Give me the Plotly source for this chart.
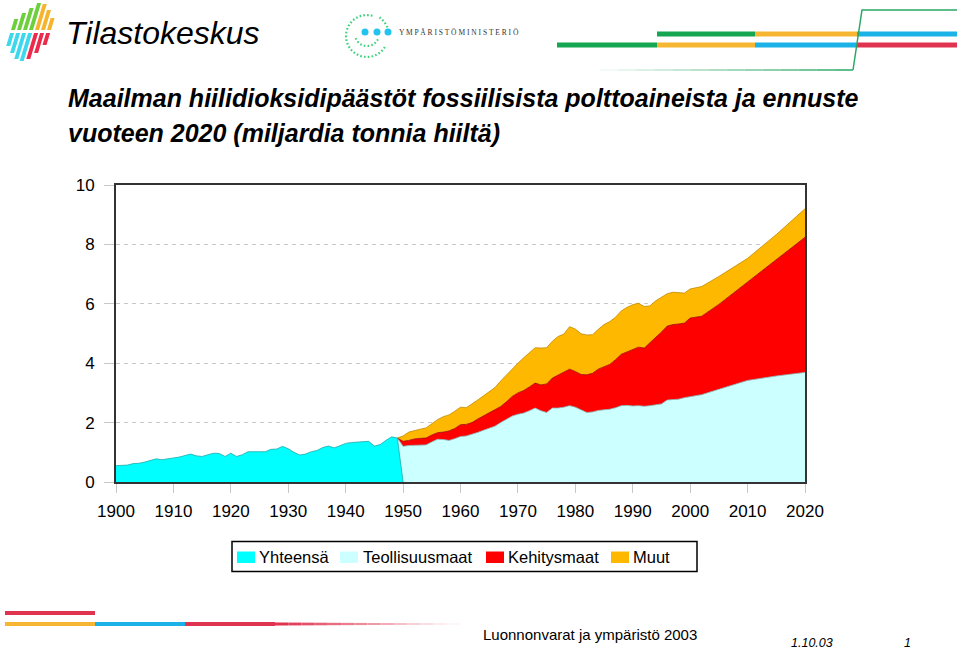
import math
import plotly.graph_objects as go

# ---------------- data ----------------
years_hist = list(range(1900, 1951))
yhteensa = [0.55, 0.56, 0.57, 0.62, 0.63, 0.67, 0.72, 0.78, 0.75, 0.77,
            0.81, 0.84, 0.88, 0.94, 0.88, 0.86, 0.92, 0.97, 0.96, 0.86,
            0.97, 0.86, 0.92, 1.02, 1.02, 1.02, 1.02, 1.10, 1.11, 1.20,
            1.12, 1.00, 0.91, 0.94, 1.02, 1.06, 1.16, 1.21, 1.15, 1.22,
            1.30, 1.33, 1.34, 1.36, 1.37, 1.21, 1.26, 1.40, 1.52, 1.48,
            0.0]

years_stack = list(range(1949, 2003)) + [2005, 2010, 2015, 2020]
teollisuusmaat = [1.48, 1.20, 1.23, 1.23, 1.24, 1.25, 1.35, 1.44, 1.43, 1.40,
                  1.46, 1.53, 1.55, 1.60, 1.67, 1.74, 1.80, 1.88, 2.00, 2.10,
                  2.22, 2.28, 2.32, 2.40, 2.49, 2.40, 2.34, 2.49, 2.49, 2.52,
                  2.57, 2.52, 2.43, 2.34, 2.36, 2.41, 2.43, 2.45, 2.50, 2.57,
                  2.58, 2.56, 2.57, 2.55, 2.57, 2.60, 2.63, 2.76, 2.78, 2.79,
                  2.84, 2.88, 2.91, 2.94, 3.12, 3.42, 3.57, 3.69]
kehitysmaat = [0.00, 0.17, 0.17, 0.22, 0.23, 0.23, 0.23, 0.22, 0.25, 0.32,
               0.34, 0.40, 0.39, 0.40, 0.45, 0.48, 0.52, 0.54, 0.54, 0.60,
               0.66, 0.72, 0.76, 0.80, 0.84, 0.87, 0.96, 1.01, 1.11, 1.16,
               1.23, 1.20, 1.19, 1.27, 1.30, 1.39, 1.46, 1.51, 1.62, 1.73,
               1.80, 1.89, 1.97, 1.96, 2.11, 2.25, 2.42, 2.49, 2.52, 2.53,
               2.51, 2.64, 2.65, 2.64, 2.86, 3.32, 3.92, 4.55]
muut = [0.00, 0.18, 0.28, 0.29, 0.31, 0.34, 0.38, 0.44, 0.52, 0.54,
        0.58, 0.59, 0.56, 0.62, 0.64, 0.68, 0.72, 0.76, 0.86, 0.90,
        0.94, 1.00, 1.10, 1.16, 1.19, 1.24, 1.22, 1.24, 1.30, 1.30,
        1.43, 1.43, 1.37, 1.34, 1.30, 1.34, 1.41, 1.44, 1.43, 1.46,
        1.50, 1.52, 1.48, 1.40, 1.25, 1.25, 1.17, 1.09, 1.09, 1.05,
        1.01, 0.98, 0.98, 1.00, 0.94, 0.79, 0.84, 0.96]

x_ticks = [1900, 1910, 1920, 1930, 1940, 1950, 1960, 1970, 1980, 1990, 2000, 2010, 2020]
y_ticks = [0, 2, 4, 6, 8, 10]

series_names = ["Yhteensä", "Teollisuusmaat", "Kehitysmaat", "Muut"]
series_colors = ["#00FFFF", "#CCFFFF", "#FF0000", "#FFB800"]
series_lines = ["#22AAAA", "#88BBBB", "#A00000", "#C08A00"]

title_1 = "Maailman hiilidioksidipäästöt fossiilisista polttoaineista ja ennuste"
title_2 = "vuoteen 2020 (miljardia tonnia hiiltä)"

FONT = "Liberation Sans, Arial, sans-serif"

# ---------------- layout geometry (pixels) ----------------
W, H = 960, 649
L, R, T, B = 116, 805, 185, 482


def px(x):
    return (x - L) / (R - L)


def py(y):
    return (B - y) / (B - T)


def path(pts, close=True):
    s = "M " + " L ".join(f"{px(x):.5f},{py(y):.5f}" for x, y in pts)
    return s + (" Z" if close else "")


fig = go.Figure()

# stacked series from 1949 on
for name, vals, fc, lc in zip(series_names[1:], [teollisuusmaat, kehitysmaat, muut],
                              series_colors[1:], series_lines[1:]):
    fig.add_trace(go.Scatter(x=years_stack, y=vals, name=name, stackgroup="one",
                             mode="lines", line=dict(color=lc, width=0.8),
                             fillcolor=fc, showlegend=False, hoverinfo="x+y+name"))

# total until 1950
fig.add_trace(go.Scatter(x=years_hist, y=yhteensa, name=series_names[0], mode="lines",
                         fill="tozeroy", fillcolor=series_colors[0],
                         line=dict(color=series_lines[0], width=0.8), showlegend=False))

shapes = []
annotations = []

# ---------- custom legend ----------
shapes.append(dict(type="rect", xref="paper", yref="paper", x0=px(232), x1=px(697),
                   y0=py(541.5), y1=py(571.5), line=dict(color="black", width=1.5)))
leg_sw = [237, 340, 486, 611]
leg_tx = [257, 360.5, 505.5, 630.5]
for sx, tx, name, c in zip(leg_sw, leg_tx, series_names, series_colors):
    shapes.append(dict(type="rect", xref="paper", yref="paper", x0=px(sx), x1=px(sx + 18),
                       y0=py(563), y1=py(551.5), fillcolor=c, line=dict(width=0)))
    annotations.append(dict(x=px(tx), y=py(557), xref="paper", yref="paper", text=name,
                            showarrow=False, xanchor="left", yanchor="middle",
                            font=dict(family=FONT, size=16.5, color="black")))

# ---------- titles ----------
for txt, yy in [(title_1, 98), (title_2, 133)]:
    annotations.append(dict(x=px(66), y=py(yy), xref="paper", yref="paper",
                            text=f"<b><i>{txt}</i></b>", showarrow=False,
                            xanchor="left", yanchor="middle",
                            font=dict(family=FONT, size=25, color="black")))

# ---------- Tilastokeskus logo ----------
cols_x = [11, 17, 23, 29, 35, 41, 47]
tops = [19, 13, 8, 3, 4, 10, 18]
bottoms = [46, 53, 59, 61, 59, 53, 45]
s = 0.3
w = 4
for i, (xb, t, b) in enumerate(zip(cols_x, tops, bottoms)):
    cu = "#6CCF3C" if i < 4 else "#F6B42C"
    cl = "#3ED8EE" if i < 4 else "#EC2A4C"
    up = [(xb, 30), (xb + w, 30), (xb + w + s * (30 - t), t), (xb + s * (30 - t), t)]
    lo = [(xb - s * 3, 33), (xb + w - s * 3, 33), (xb + w - s * (b - 30), b), (xb - s * (b - 30), b)]
    shapes.append(dict(type="path", xref="paper", yref="paper", path=path(up),
                       fillcolor=cu, line=dict(width=0)))
    shapes.append(dict(type="path", xref="paper", yref="paper", path=path(lo),
                       fillcolor=cl, line=dict(width=0)))
annotations.append(dict(x=px(64), y=py(33), xref="paper", yref="paper", text="<i>Tilastokeskus</i>",
                        showarrow=False, xanchor="left", yanchor="middle",
                        font=dict(family=FONT, size=32, color="black")))

# ---------- Ympäristöministeriö logo ----------
def arc(cx, cy, r, a0, a1, n=40):
    return [(cx + r * math.cos(math.radians(a0 + (a1 - a0) * k / n)),
             cy - r * math.sin(math.radians(a0 + (a1 - a0) * k / n))) for k in range(n + 1)]


green_dot = "#3DD27A"
for (cx, cy, r, a0, a1) in [(367, 36, 21, 75, 330), (367, 34, 12, 200, 335), (366, 36, 23, 22, 58)]:
    shapes.append(dict(type="path", xref="paper", yref="paper", path=path(arc(cx, cy, r, a0, a1), close=False),
                       line=dict(color=green_dot, width=2.2, dash="1.6px,2.2px")))
for cx in [365, 377, 388]:
    shapes.append(dict(type="circle", xref="paper", yref="paper", x0=px(cx - 3.5), x1=px(cx + 3.5),
                       y0=py(32 - 3.5), y1=py(32 + 3.5), fillcolor="#22C3EC", line=dict(width=0)))
annotations.append(dict(x=px(397), y=py(32), xref="paper", yref="paper",
                        text="Y M P Ä R I S T Ö M I N I S T E R I Ö", showarrow=False,
                        xanchor="left", yanchor="middle",
                        font=dict(family="Liberation Serif, serif", size=7.5, color="#333333")))

# ---------- top-right bands ----------
G, O, C, Rd = "#14A650", "#F6B631", "#1BB2E8", "#E0334F"
for (x0, x1, yy, c) in [(657, 755, 34, G), (755, 857, 34, O), (857, 957, 34, C),
                        (557, 657, 45, G), (657, 755, 45, O), (755, 857, 45, C), (857, 957, 45, Rd)]:
    shapes.append(dict(type="line", xref="paper", yref="paper", x0=px(x0), x1=px(x1),
                       y0=py(yy), y1=py(yy), line=dict(color=c, width=5)))
shapes.append(dict(type="path", xref="paper", yref="paper",
                   path=path([(853, 70), (862, 10), (957, 10)], close=False),
                   line=dict(color="#2BA866", width=1.5)))
nseg = 14
for k in range(nseg):
    x0 = 600 + (853 - 600) * k / nseg
    x1 = 600 + (853 - 600) * (k + 1) / nseg
    f = (k + 1) / nseg
    col = f"rgb({int(255 - (255 - 43) * f)},{int(255 - (255 - 168) * f)},{int(255 - (255 - 102) * f)})"
    shapes.append(dict(type="line", xref="paper", yref="paper", x0=px(x0), x1=px(x1),
                       y0=py(70), y1=py(70), line=dict(color=col, width=1.5)))

# ---------- footer ----------
for (x0, x1, yy, c) in [(5, 95, 613, Rd), (5, 95, 624, O), (95, 185, 624, C), (185, 275, 624, Rd)]:
    shapes.append(dict(type="line", xref="paper", yref="paper", x0=px(x0), x1=px(x1),
                       y0=py(yy), y1=py(yy), line=dict(color=c, width=4)))
for k in range(nseg):
    x0 = 275 + (460 - 275) * k / nseg
    x1 = 275 + (460 - 275) * (k + 1) / nseg
    f = k / nseg
    col = f"rgb({int(224 + (255 - 224) * f)},{int(51 + (255 - 51) * f)},{int(79 + (255 - 79) * f)})"
    shapes.append(dict(type="line", xref="paper", yref="paper", x0=px(x0), x1=px(x1),
                       y0=py(624), y1=py(624), line=dict(color=col, width=3 - 2 * f)))

annotations.append(dict(x=px(481), y=py(634), xref="paper", yref="paper",
                        text="Luonnonvarat ja ympäristö 2003", showarrow=False,
                        xanchor="left", yanchor="middle",
                        font=dict(family=FONT, size=15, color="black")))
annotations.append(dict(x=px(789), y=py(643), xref="paper", yref="paper",
                        text="<i>1.10.03</i>", showarrow=False, xanchor="left", yanchor="middle",
                        font=dict(family=FONT, size=12.5, color="black")))
annotations.append(dict(x=px(902), y=py(643), xref="paper", yref="paper",
                        text="<i>1</i>", showarrow=False, xanchor="left", yanchor="middle",
                        font=dict(family=FONT, size=12.5, color="black")))

fig.update_layout(
    width=W, height=H, autosize=False,
    margin=dict(l=L, r=W - R, t=T, b=H - B, pad=0),
    paper_bgcolor="white", plot_bgcolor="white",
    showlegend=False,
    shapes=shapes, annotations=annotations,
    xaxis=dict(range=[1900, 2020], tickvals=x_ticks, ticktext=[str(v) for v in x_ticks],
               ticks="outside", ticklen=9, tickcolor="#c8c8c8", tickwidth=1,
               showline=True, linecolor="#333333", linewidth=2, mirror=True,
               showgrid=False, zeroline=False, ticklabelstandoff=4,
               tickfont=dict(family=FONT, size=17, color="black")),
    yaxis=dict(range=[0, 10], tickvals=y_ticks, ticks="outside", ticklen=10,
               tickcolor="#c8c8c8", tickwidth=1,
               showline=True, linecolor="#333333", linewidth=2, mirror=True,
               showgrid=True, gridcolor="#c8c8c8", gridwidth=1, griddash="4px,4px",
               zeroline=False, ticklabelstandoff=6,
               tickfont=dict(family=FONT, size=17, color="black")),
)

fig.write_html("out.html", config={"displayModeBar": False},
               post_script="document.body.style.margin='0';document.body.style.overflow='hidden';")
